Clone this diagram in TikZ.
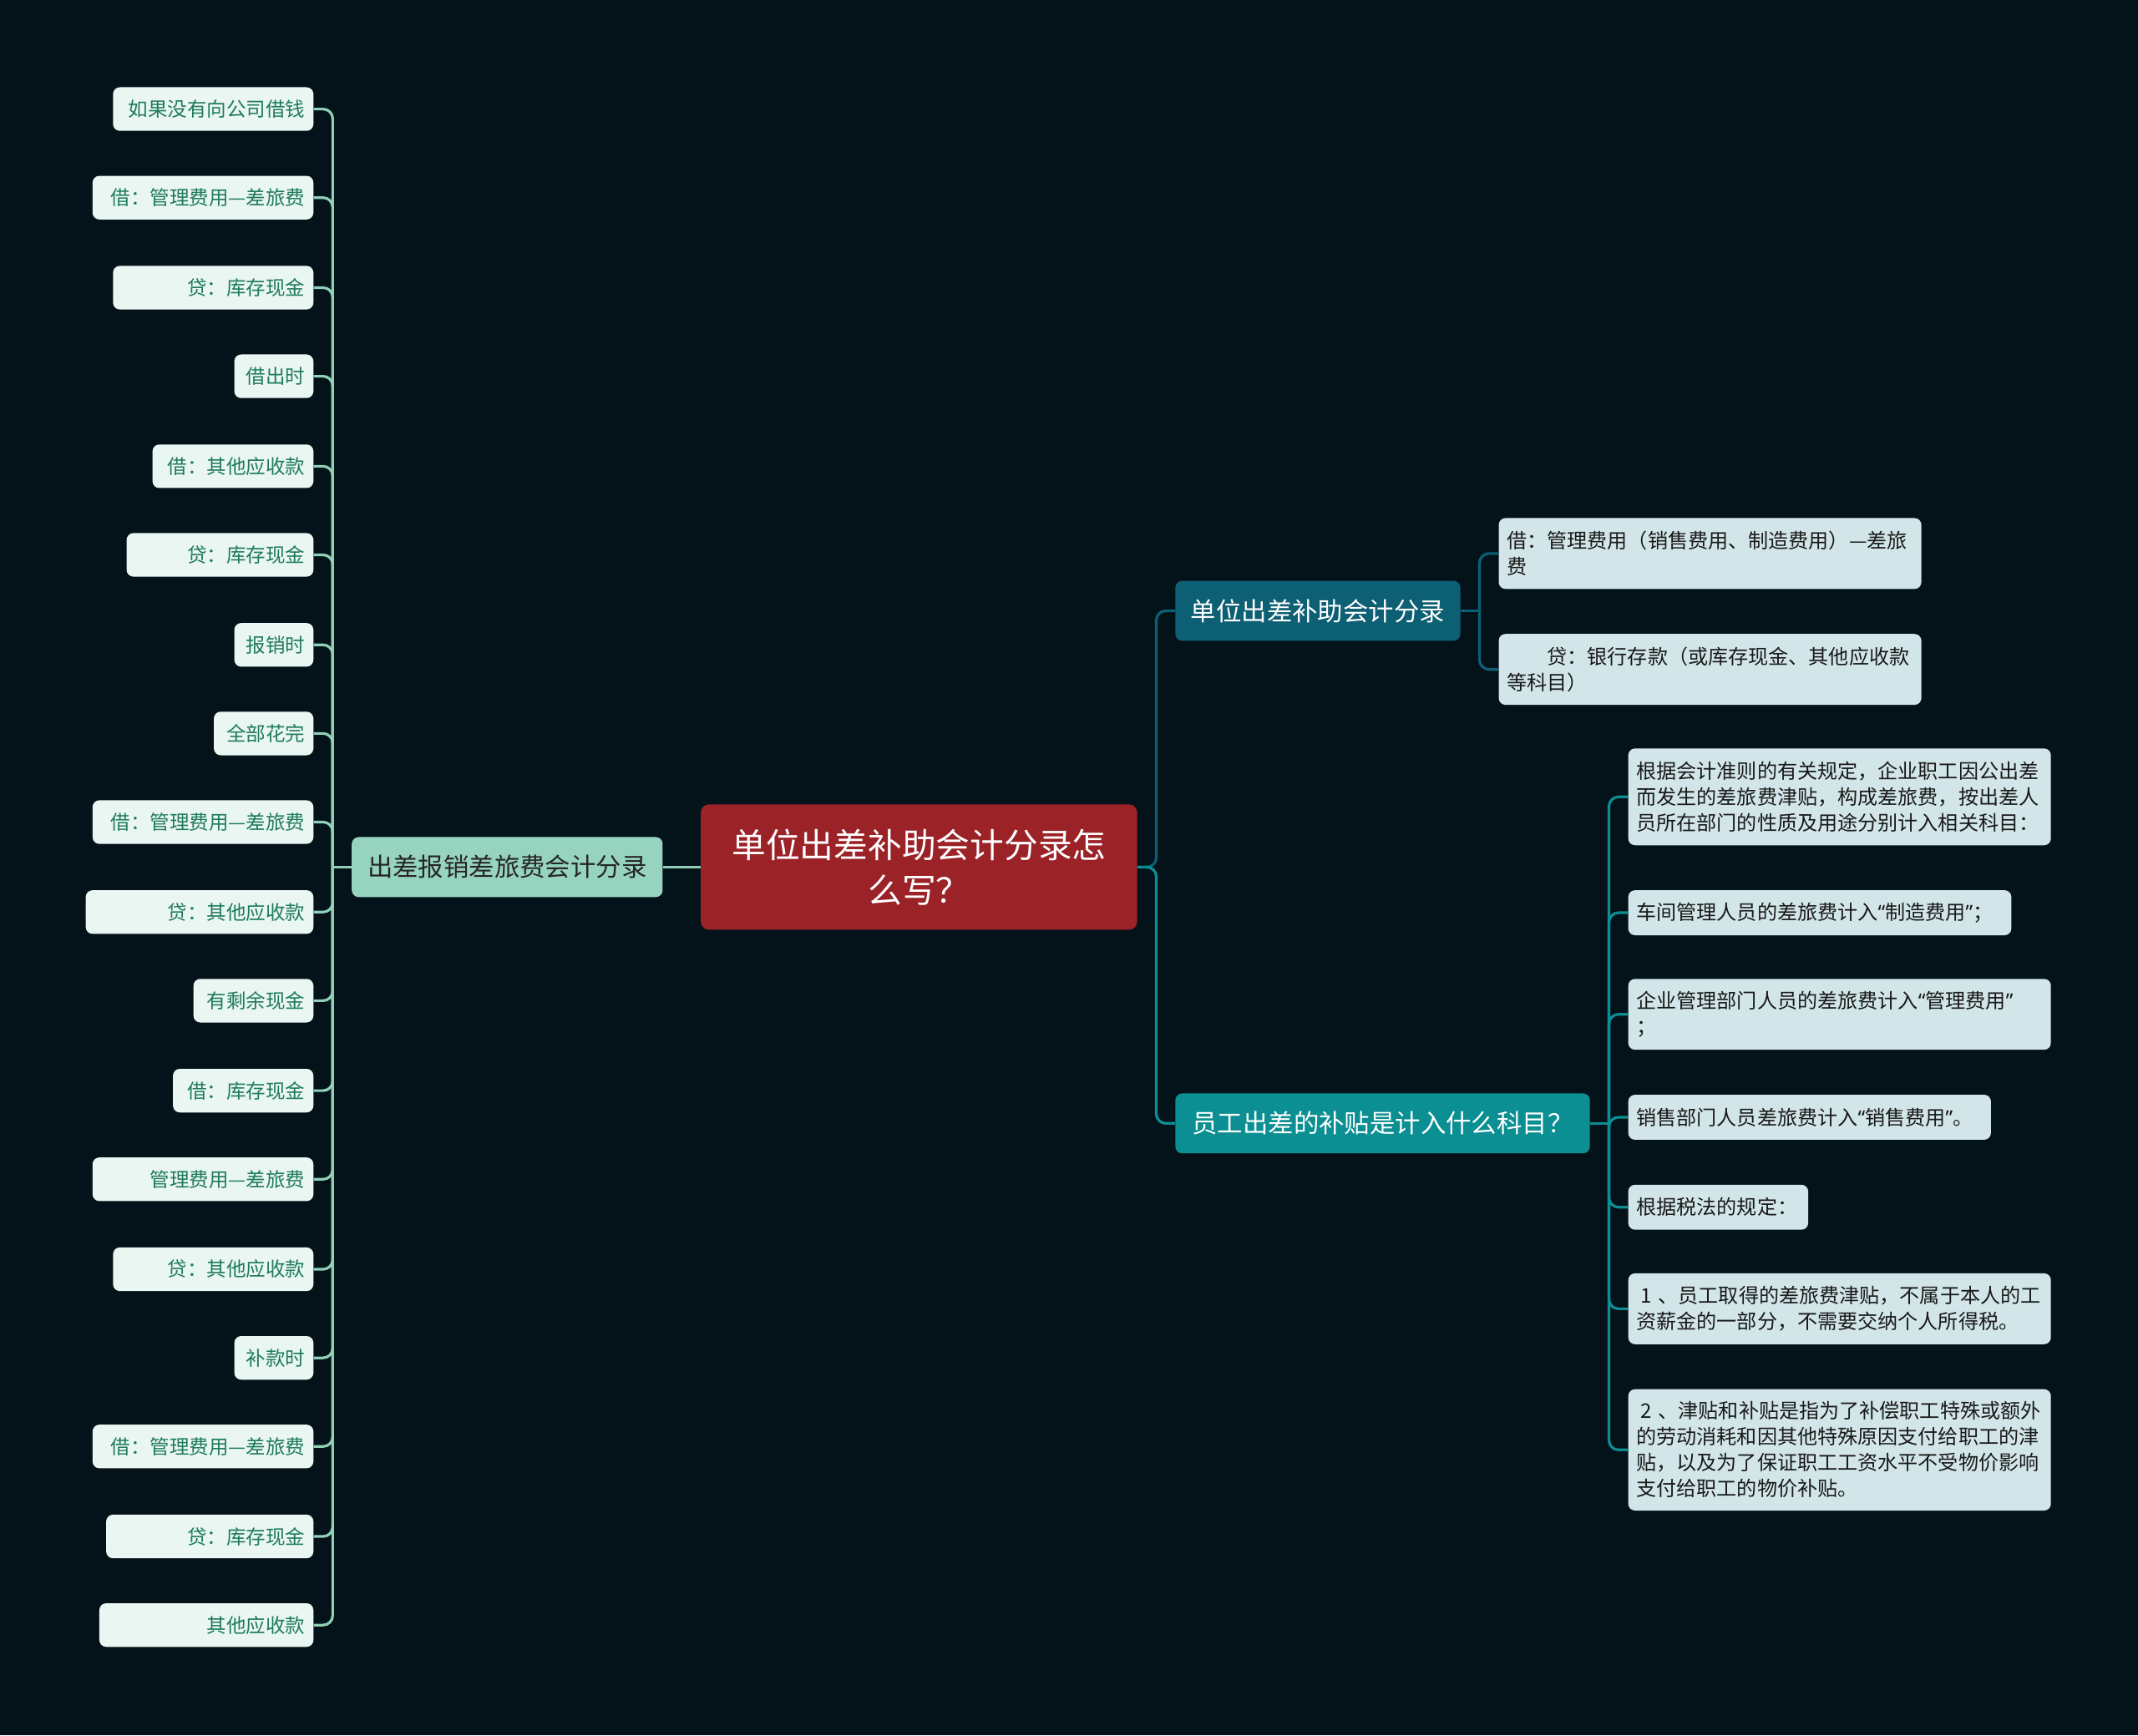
\documentclass[tikz,border=0pt]{standalone}
\usepackage{fontspec}
\setmainfont{Noto Sans CJK SC}
\newfontfamily\qfont{Noto Sans}
\usepackage{tikz}
\definecolor{bgcol}{HTML}{041219}
\definecolor{rootcol}{HTML}{9B2328}
\definecolor{midcol}{HTML}{96D4BF}
\definecolor{lleaffill}{HTML}{E9F6F1}
\definecolor{lleaftext}{HTML}{1F7A5E}
\definecolor{llinecol}{HTML}{8FD0B6}
\definecolor{unitcol}{HTML}{0D5F73}
\definecolor{empcol}{HTML}{0B8F92}
\definecolor{rleaffill}{HTML}{D2E6E9}
\newcommand{\openq}{{\qfont “}}
\newcommand{\closeq}{{\qfont ”}}
\tikzset{
	lleaf/.style={draw=none, fill=lleaffill, text=lleaftext, rounded corners=0.25cm, anchor=east,
		minimum height=1.6cm, inner xsep=0.3cm, text width=#1, align=right,
		font=\fontsize{20.5pt}{26pt}\selectfont},
	rleaf/.style={fill=rleaffill, text=black!90, rounded corners=0.25cm, anchor=west,
		inner xsep=0.3cm, text width=#1, align=left,
		font=\fontsize{21pt}{27pt}\selectfont},
	midbox/.style={rounded corners=0.25cm, minimum height=2.2cm, inner xsep=0.3cm,
		font=\fontsize{26.5pt}{34pt}\selectfont},
	lline/.style={draw=llinecol, line width=2.8pt, rounded corners=0.35cm},
	uline/.style={draw=unitcol, line width=2.8pt, rounded corners=0.35cm},
	eline/.style={draw=empcol, line width=2.8pt, rounded corners=0.35cm}
}

\begin{document}
\begin{tikzpicture}[x=0.05cm, y=-0.05cm]
		\fill[bgcol] (0,0) rectangle (1568,1273);
		\useasboundingbox (0,0) rectangle (1568,1273);

		\node[fill=rootcol, text=white, rounded corners=0.3cm, minimum width=16cm, minimum height=4.6cm,
			align=center, font=\fontsize{35.5pt}{47pt}\selectfont] (root) at (674,636) {单位出差补助会计分录怎\\么写？};

		\node[midbox, fill=midcol, text=black!85, minimum width=11.4cm] (expense) at (372,636) {出差报销差旅费会计分录};
		\node[midbox, fill=unitcol, text=white, minimum width=10.45cm] (unit) at (966.5,448) {单位出差补助会计分录};
		\node[midbox, fill=empcol, text=white, minimum width=15.2cm] (staff) at (1014,824) {员工出差的补贴是计入什么科目？};

		\node[lleaf=6.75cm] (l1) at (230,80) {如果没有向公司借钱};
		\node[lleaf=7.5cm] (l2) at (230,145) {借：管理费用—差旅费};
		\node[lleaf=6.75cm] (l3) at (230,211) {贷：库存现金};
		\node[lleaf=2.3cm] (l4) at (230,276) {借出时};
		\node[lleaf=5.3cm] (l5) at (230,342) {借：其他应收款};
		\node[lleaf=6.25cm] (l6) at (230,407) {贷：库存现金};
		\node[lleaf=2.3cm] (l7) at (230,473) {报销时};
		\node[lleaf=3.05cm] (l8) at (230,538) {全部花完};
		\node[lleaf=7.5cm] (l9) at (230,603) {借：管理费用—差旅费};
		\node[lleaf=7.75cm] (l10) at (230,669) {贷：其他应收款};
		\node[lleaf=3.8cm] (l11) at (230,734) {有剩余现金};
		\node[lleaf=4.55cm] (l12) at (230,800) {借：库存现金};
		\node[lleaf=7.5cm] (l13) at (230,865) {管理费用—差旅费};
		\node[lleaf=6.75cm] (l14) at (230,931) {贷：其他应收款};
		\node[lleaf=2.3cm] (l15) at (230,996) {补款时};
		\node[lleaf=7.5cm] (l16) at (230,1061) {借：管理费用—差旅费};
		\node[lleaf=7.0cm] (l17) at (230,1127) {贷：库存现金};
		\node[lleaf=7.25cm] (l18) at (230,1192) {其他应收款};

		\node[rleaf=14.9cm, minimum height=2.6cm] (u1) at (1099,406) {借：管理费用（销售费用、制造费用）—差旅\\费};
		\node[rleaf=14.9cm, minimum height=2.6cm] (u2) at (1099,491) {\hspace*{2em}贷：银行存款（或库存现金、其他应收款\\等科目）};

		\node[rleaf=14.9cm, minimum height=3.55cm] (s1) at (1194,584.5) {根据会计准则的有关规定，企业职工因公出差\\而发生的差旅费津贴，构成差旅费，按出差人\\员所在部门的性质及用途分别计入相关科目：};
		\node[rleaf=13.45cm, minimum height=1.65cm] (s2) at (1194,669.5) {车间管理人员的差旅费计入\openq 制造费用\closeq；};
		\node[rleaf=14.9cm, minimum height=2.6cm] (s3) at (1194,744) {企业管理部门人员的差旅费计入\openq 管理费用\closeq\\；};
		\node[rleaf=12.7cm, minimum height=1.65cm] (s4) at (1194,819.5) {销售部门人员差旅费计入\openq 销售费用\closeq。};
		\node[rleaf=6.0cm, minimum height=1.65cm] (s5) at (1194,885.5) {根据税法的规定：};
		\node[rleaf=14.9cm, minimum height=2.6cm] (s6) at (1194,960) {\hspace*{0.2em}1 、员工取得的差旅费津贴，不属于本人的工\\资薪金的一部分，不需要交纳个人所得税。};
		\node[rleaf=14.9cm, minimum height=4.45cm] (s7) at (1194,1063.5) {\hspace*{0.2em}2 、津贴和补贴是指为了补偿职工特殊或额外\\的劳动消耗和因其他特殊原因支付给职工的津\\贴，以及为了保证职工工资水平不受物价影响\\支付给职工的物价补贴。};

		\coordinate (lj) at (244,636);
		\coordinate (rj) at (848,636);
		\coordinate (uj) at (1085,448);
		\coordinate (sj) at (1180,824);

		\draw[lline] (root.west) -- (expense.east);
		\draw[lline] (expense.west) -- (lj);
		\draw[lline] (lj) |- (l1.east);
		\draw[lline] (lj) |- (l2.east);
		\draw[lline] (lj) |- (l3.east);
		\draw[lline] (lj) |- (l4.east);
		\draw[lline] (lj) |- (l5.east);
		\draw[lline] (lj) |- (l6.east);
		\draw[lline] (lj) |- (l7.east);
		\draw[lline] (lj) |- (l8.east);
		\draw[lline] (lj) |- (l9.east);
		\draw[lline] (lj) |- (l10.east);
		\draw[lline] (lj) |- (l11.east);
		\draw[lline] (lj) |- (l12.east);
		\draw[lline] (lj) |- (l13.east);
		\draw[lline] (lj) |- (l14.east);
		\draw[lline] (lj) |- (l15.east);
		\draw[lline] (lj) |- (l16.east);
		\draw[lline] (lj) |- (l17.east);
		\draw[lline] (lj) |- (l18.east);

		\draw[uline] (root.east) -- (rj) |- (unit.west);
		\draw[eline] (root.east) -- (rj) |- (staff.west);

		\draw[uline] (unit.east) -- (uj);
		\draw[uline] (uj) |- (u1.west);
		\draw[uline] (uj) |- (u2.west);

		\draw[eline] (staff.east) -- (sj);
		\draw[eline] (sj) |- (s1.west);
		\draw[eline] (sj) |- (s2.west);
		\draw[eline] (sj) |- (s3.west);
		\draw[eline] (sj) |- (s4.west);
		\draw[eline] (sj) |- (s5.west);
		\draw[eline] (sj) |- (s6.west);
		\draw[eline] (sj) |- (s7.west);
	\end{tikzpicture}
\end{document}
